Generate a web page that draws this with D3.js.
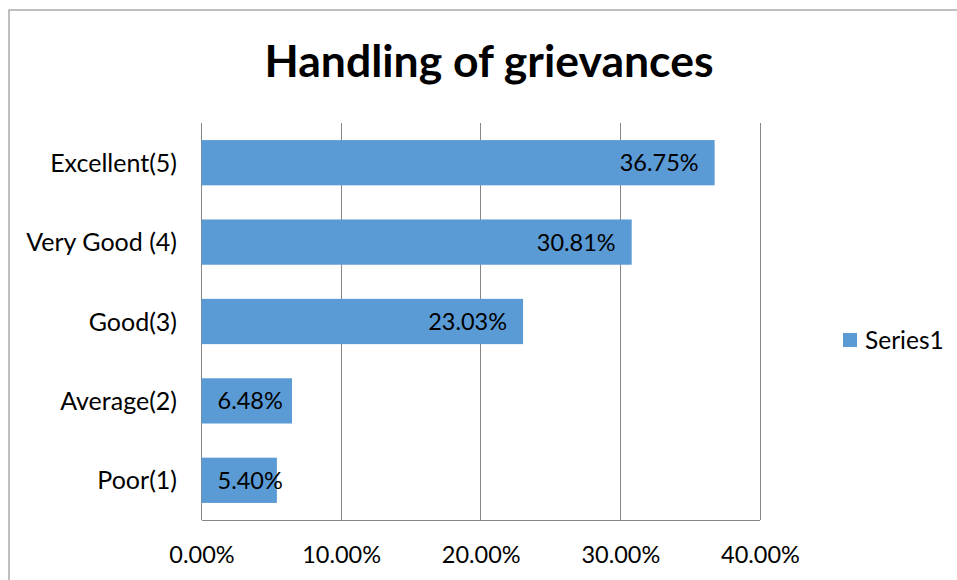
<!DOCTYPE html>
<html>
<head>
<meta charset="utf-8">
<script src="https://cdn.jsdelivr.net/npm/d3@7"></script>
<style>
  html, body { margin: 0; padding: 0; background: #fff; }
  svg { display: block; }
  text { font-family: Lato, "Open Sans", sans-serif; fill: #000; }
</style>
</head>
<body>
<svg id="chart" width="957" height="580"></svg>
<script>
const title = "Handling of grievances";
const categories = ["Excellent(5)", "Very Good (4)", "Good(3)", "Average(2)", "Poor(1)"];
const values = [36.75, 30.81, 23.03, 6.48, 5.40];
const xTicks = [0, 10, 20, 30, 40];
const seriesName = "Series1";

const svg = d3.select("#chart");
const W = 957, H = 580;
const plot = { left: 201.5, right: 760, top: 123, bottom: 520 };
const barColor = "#5b9bd5";
const gridColor = "#868686";

// chart border
svg.append("rect")
  .attr("x", 9).attr("y", 10)
  .attr("width", W + 10).attr("height", H + 10)
  .attr("fill", "none").attr("stroke", "#ababab").attr("stroke-width", 1.5);

// title
svg.append("text")
  .attr("x", 489).attr("y", 77)
  .attr("text-anchor", "middle")
  .attr("font-weight", "bold")
  .attr("font-size", 44.5)
  .text(title);

const x = d3.scaleLinear().domain([0, 40]).range([plot.left, plot.right]);
const y = d3.scaleBand().domain(categories).range([plot.top, plot.bottom]).paddingInner(0.43).paddingOuter(0.215);

// gridlines
svg.append("g").selectAll("line").data(xTicks).join("line")
  .attr("x1", d => x(d)).attr("x2", d => x(d))
  .attr("y1", plot.top).attr("y2", plot.bottom)
  .attr("stroke", gridColor).attr("stroke-width", 1)
  .attr("shape-rendering", "crispEdges");

// bottom axis line
svg.append("line")
  .attr("x1", plot.left).attr("x2", plot.right)
  .attr("y1", plot.bottom).attr("y2", plot.bottom)
  .attr("stroke", gridColor).attr("stroke-width", 1)
  .attr("shape-rendering", "crispEdges");

// bars
svg.append("g").selectAll("rect").data(values).join("rect")
  .attr("x", x(0))
  .attr("y", (d, i) => y(categories[i]))
  .attr("width", d => x(d) - x(0))
  .attr("height", y.bandwidth())
  .attr("fill", barColor);

// x axis
const xAxis = d3.axisBottom(x).tickValues(xTicks).tickSize(0).tickPadding(0)
  .tickFormat(d => d.toFixed(2) + "%");
const gx = svg.append("g").attr("transform", `translate(0,${plot.bottom})`).call(xAxis);
gx.select(".domain").remove();
gx.selectAll("text").attr("font-size", 23.5).attr("font-family", "Lato, sans-serif")
  .attr("fill", "#000").attr("y", 43).attr("dy", 0);

// y axis
const yAxis = d3.axisLeft(y).tickSize(0).tickPadding(0);
const gy = svg.append("g").attr("transform", `translate(177,0)`).call(yAxis);
gy.select(".domain").remove();
gy.selectAll("text").attr("font-size", 25).attr("font-family", "Lato, sans-serif")
  .attr("fill", "#000").attr("x", 0).attr("dy", "0.36em");

// data labels (inside end, clamped to bar start)
const labels = svg.append("g").selectAll("text").data(values).join("text")
  .attr("font-size", 23.5)
  .attr("y", (d, i) => y(categories[i]) + y.bandwidth() / 2)
  .attr("dy", "0.36em")
  .text(d => d.toFixed(2) + "%");
labels.each(function(d) {
  const w = this.getComputedTextLength();
  const xs = Math.max(x(d) - 16 - w, x(0) + 16);
  d3.select(this).attr("x", xs);
});

// legend
const lg = svg.append("g");
lg.append("rect").attr("x", 843).attr("y", 333).attr("width", 14).attr("height", 14).attr("fill", barColor);
lg.append("text").attr("x", 865).attr("y", 340).attr("dy", "0.36em").attr("font-size", 24.5).text(seriesName);
</script>
</body>
</html>
